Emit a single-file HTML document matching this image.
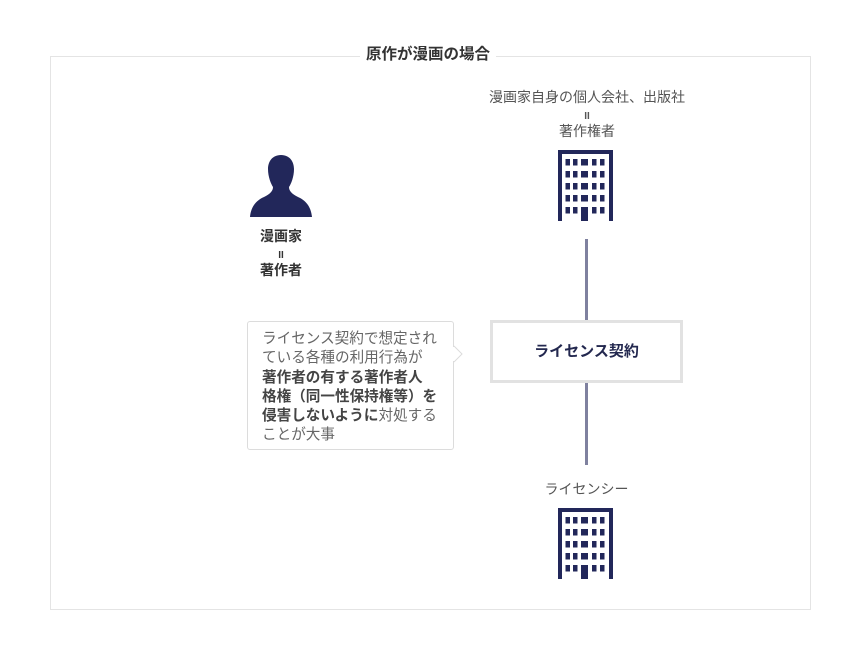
<!DOCTYPE html>
<html><head><meta charset="utf-8">
<style>
body{margin:0;width:860px;height:660px;background:#fff;position:relative;overflow:hidden;font-family:"Liberation Sans","Noto Sans CJK JP",sans-serif;}
.a{position:absolute;}
.frame{left:50px;top:56px;width:759px;height:552px;border:1px solid #e4e4e4;}
.title{left:360px;top:45px;padding:0 6px;background:#fff;font-size:15.5px;font-weight:bold;color:#333;line-height:20px;}
.lbl{font-size:14px;color:#555;text-align:center;line-height:17px;}
.eq{font-size:10px;line-height:9px;font-weight:bold;}
.callout{left:247px;top:321px;width:207px;height:129px;border:1px solid #dcdcdc;border-radius:3px;box-sizing:border-box;padding:8px 0 0 14px;font-size:14.6px;line-height:19.3px;color:#666;letter-spacing:0;}
.callout b{color:#444;}
.box{left:490px;top:320px;width:193px;height:63px;border:3px solid #e2e2e2;box-sizing:border-box;text-align:center;line-height:57px;font-size:15px;font-weight:bold;color:#23284f;background:#fff;}
.line{width:3px;background:#7f819f;left:585px;}
</style></head><body>
<div class="a frame"></div>
<div class="a title">原作が漫画の場合</div>

<div class="a lbl" style="left:470px;top:89px;width:234px;">漫画家自身の個人会社、出版社<br><span class="eq">II</span><br>著作権者</div>
<div class="a lbl" style="left:231px;top:228px;width:100px;font-weight:bold;color:#333;">漫画家<br><span class="eq">II</span><br>著作者</div>
<div class="a lbl" style="left:520px;top:481px;width:133px;">ライセンシー</div>

<svg class="a" style="left:558px;top:150px" width="55" height="71" viewBox="0 0 55 71">
<g fill="#22275a"><path d="M0 0H55V71H0ZM4 4V71H51V4Z" fill-rule="evenodd"/>
<rect x="7.5" y="9" width="4.5" height="6.5"/><rect x="15" y="9" width="4.5" height="6.5"/><rect x="23" y="9" width="7" height="6.5"/><rect x="34" y="9" width="4.5" height="6.5"/><rect x="42" y="9" width="4.5" height="6.5"/>
<rect x="7.5" y="21" width="4.5" height="6.5"/><rect x="15" y="21" width="4.5" height="6.5"/><rect x="23" y="21" width="7" height="6.5"/><rect x="34" y="21" width="4.5" height="6.5"/><rect x="42" y="21" width="4.5" height="6.5"/>
<rect x="7.5" y="33" width="4.5" height="6.5"/><rect x="15" y="33" width="4.5" height="6.5"/><rect x="23" y="33" width="7" height="6.5"/><rect x="34" y="33" width="4.5" height="6.5"/><rect x="42" y="33" width="4.5" height="6.5"/>
<rect x="7.5" y="45" width="4.5" height="6.5"/><rect x="15" y="45" width="4.5" height="6.5"/><rect x="23" y="45" width="7" height="6.5"/><rect x="34" y="45" width="4.5" height="6.5"/><rect x="42" y="45" width="4.5" height="6.5"/>
<rect x="7.5" y="57" width="4.5" height="6.5"/><rect x="15" y="57" width="4.5" height="6.5"/><rect x="23" y="57" width="7" height="14"/><rect x="34" y="57" width="4.5" height="6.5"/><rect x="42" y="57" width="4.5" height="6.5"/>
</g></svg>
<svg class="a" style="left:558px;top:508px" width="55" height="71" viewBox="0 0 55 71">
<g fill="#22275a"><path d="M0 0H55V71H0ZM4 4V71H51V4Z" fill-rule="evenodd"/>
<rect x="7.5" y="9" width="4.5" height="6.5"/><rect x="15" y="9" width="4.5" height="6.5"/><rect x="23" y="9" width="7" height="6.5"/><rect x="34" y="9" width="4.5" height="6.5"/><rect x="42" y="9" width="4.5" height="6.5"/>
<rect x="7.5" y="21" width="4.5" height="6.5"/><rect x="15" y="21" width="4.5" height="6.5"/><rect x="23" y="21" width="7" height="6.5"/><rect x="34" y="21" width="4.5" height="6.5"/><rect x="42" y="21" width="4.5" height="6.5"/>
<rect x="7.5" y="33" width="4.5" height="6.5"/><rect x="15" y="33" width="4.5" height="6.5"/><rect x="23" y="33" width="7" height="6.5"/><rect x="34" y="33" width="4.5" height="6.5"/><rect x="42" y="33" width="4.5" height="6.5"/>
<rect x="7.5" y="45" width="4.5" height="6.5"/><rect x="15" y="45" width="4.5" height="6.5"/><rect x="23" y="45" width="7" height="6.5"/><rect x="34" y="45" width="4.5" height="6.5"/><rect x="42" y="45" width="4.5" height="6.5"/>
<rect x="7.5" y="57" width="4.5" height="6.5"/><rect x="15" y="57" width="4.5" height="6.5"/><rect x="23" y="57" width="7" height="14"/><rect x="34" y="57" width="4.5" height="6.5"/><rect x="42" y="57" width="4.5" height="6.5"/>
</g></svg>

<svg class="a" style="left:248px;top:154px" width="66" height="64" viewBox="0 0 66 64">
<path fill="#22275a" d="M33 1C24 1 20 8 20 15C20 23 23 30 25 33C25 37 22 40 16 43C9 46 3 52 2 63H64C63 52 57 46 50 43C44 40 41 37 41 33C43 30 46 23 46 15C46 8 42 1 33 1Z"/>
</svg>

<div class="a line" style="top:239px;height:81px;"></div>
<div class="a line" style="top:383px;height:82px;"></div>
<div class="a box">ライセンス契約</div>

<div class="a callout">ライセンス契約で想定され<br>ている各種の利用行為が<br><b>著作者の有する著作者人<br>格権（同一性保持権等）を<br>侵害しないように</b>対処する<br>ことが大事</div>
<svg class="a" style="left:453px;top:345px" width="12" height="20"><path d="M1 1L9 9L1 17" fill="#fff" stroke="#dcdcdc" stroke-width="1"/><rect x="0" y="2" width="1.5" height="14" fill="#fff"/></svg>
</body></html>
